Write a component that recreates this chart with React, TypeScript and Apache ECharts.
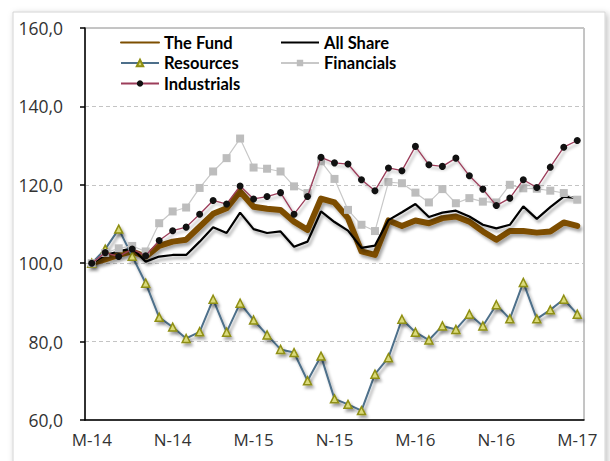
import React, { useEffect, useRef } from "react";
import * as echarts from "echarts";

const categories = [
  "M-14","J-14","J-14","A-14","S-14","O-14","N-14","D-14","J-15","F-15","M-15","A-15",
  "M-15","J-15","J-15","A-15","S-15","O-15","N-15","D-15","J-16","F-16","M-16","A-16",
  "M-16","J-16","J-16","A-16","S-16","O-16","N-16","D-16","J-17","F-17","M-17","A-17","M-17",
];

const theFund = [
  100.0, 101.0, 102.1, 103.0, 101.7, 104.4, 105.5, 106.0, 109.3, 112.6, 114.0, 118.3,
  114.4, 113.9, 113.6, 110.6, 108.5, 116.5, 115.5, 111.5, 103.0, 102.1, 110.9, 109.5,
  110.9, 110.2, 111.5, 111.9, 110.6, 108.1, 106.0, 108.2, 108.2, 107.8, 108.1, 110.4, 109.5,
];

const allShare = [
  100.0, 102.1, 103.0, 103.8, 100.4, 101.7, 102.1, 102.1, 105.5, 109.2, 107.7, 112.9,
  108.7, 107.7, 108.1, 104.2, 105.5, 113.2, 110.5, 108.3, 103.9, 104.5, 111.0, 113.0,
  115.1, 111.8, 112.9, 113.4, 111.9, 109.8, 108.9, 109.8, 114.5, 111.3, 114.3, 117.0, 116.6,
];

const resources = [
  100.0, 103.6, 108.7, 101.8, 94.9, 86.2, 83.7, 80.8, 82.5, 90.8, 82.4, 89.8,
  85.5, 81.7, 78.0, 77.2, 70.0, 76.3, 65.4, 64.0, 62.4, 71.7, 75.9, 85.7,
  82.4, 80.4, 84.0, 83.1, 87.0, 84.0, 89.4, 85.8, 95.1, 85.8, 88.1, 90.8, 87.0,
];

const financials = [
  100.0, 102.6, 103.8, 104.4, 103.0, 110.2, 113.2, 114.2, 119.2, 123.4, 126.8, 131.8,
  124.4, 124.1, 123.4, 119.6, 117.9, 126.0, 121.5, 113.6, 109.8, 108.2, 120.7, 120.4,
  118.0, 115.5, 118.9, 115.3, 116.6, 115.7, 115.5, 120.0, 119.1, 119.0, 118.5, 117.9, 116.2,
];

const industrials = [
  100.0, 102.7, 101.7, 103.6, 101.9, 105.8, 108.3, 109.2, 112.5, 116.0, 115.1, 119.7,
  116.4, 117.0, 118.0, 112.5, 117.0, 127.0, 125.6, 125.3, 121.3, 118.5, 124.3, 123.6,
  129.8, 125.1, 124.7, 126.8, 122.3, 118.9, 114.7, 116.6, 121.3, 119.3, 124.5, 129.6, 131.3,
];

const yTicks = [60, 80, 100, 120, 140, 160];

export default function App() {
  const ref = useRef<HTMLDivElement>(null);

  useEffect(() => {
    document.body.style.margin = "0";
    const chart = echarts.init(ref.current!, null, { renderer: "svg" });
    const shadow = {
      shadowColor: "rgba(0,0,0,0.35)",
      shadowBlur: 3,
      shadowOffsetX: 2,
      shadowOffsetY: 3,
    };
    const legendText = {
      fontFamily: "Lato",
      fontWeight: "bold" as const,
      fontSize: 16.5,
      color: "#000",
    };
    const hiddenSymbol = { opacity: 0, color: "transparent", borderWidth: 0 };
    const legendCommon = {
      orient: "vertical" as const,
      top: 29,
      itemWidth: 38,
      itemHeight: 8,
      itemGap: 3.5,
      textStyle: legendText,
      selectedMode: false,
    };
    chart.setOption({
      animation: false,
      backgroundColor: "#fff",
      graphic: [
        {
          type: "rect",
          shape: { x: 13, y: 12, width: 592, height: 470 },
          style: {
            fill: "#fff",
            stroke: "#d4d4d4",
            lineWidth: 1,
            shadowColor: "rgba(0,0,0,0.25)",
            shadowBlur: 6,
            shadowOffsetX: 2,
            shadowOffsetY: 2,
          },
          z: -10,
          silent: true,
        },
      ],
      grid: {
        left: 85,
        right: 26,
        top: 28,
        bottom: 41,
        show: true,
        borderColor: "#8a8a8a",
        borderWidth: 1,
        backgroundColor: "transparent",
      },
      legend: [
        {
          ...legendCommon,
          left: 115,
          data: [
            { name: "The Fund", itemStyle: hiddenSymbol },
            { name: "Resources" },
            { name: "Industrials" },
          ],
        },
        {
          ...legendCommon,
          left: 275,
          data: [{ name: "All Share", itemStyle: hiddenSymbol }, { name: "Financials" }],
        },
      ],
      xAxis: {
        type: "category",
        data: categories,
        boundaryGap: true,
        axisLine: { lineStyle: { color: "#000", width: 1.5 } },
        axisTick: { interval: 5, length: 5, lineStyle: { color: "#000", width: 1.5 } },
        axisLabel: {
          interval: 5,
          margin: 11,
          fontFamily: "Open Sans",
          fontSize: 17,
          color: "#333",
        },
        splitLine: { show: false },
      },
      yAxis: {
        type: "value",
        min: yTicks[0],
        max: yTicks[yTicks.length - 1],
        interval: 20,
        axisLine: { show: true, lineStyle: { color: "#000", width: 1.5 } },
        axisTick: { show: true, length: 5, lineStyle: { color: "#000", width: 1.5 } },
        axisLabel: {
          margin: 22,
          fontFamily: "Open Sans",
          fontSize: 17.5,
          color: "#333",
          formatter: (v: number) => v.toFixed(1).replace(".", ","),
        },
        splitLine: { lineStyle: { color: "#c4c4c4", type: [4, 3], width: 1 } },
      },
      series: [
        {
          name: "The Fund",
          type: "line",
          data: theFund,
          symbol: "none",
          color: "#7d4e00",
          lineStyle: { width: 6, color: "#7d4e00", cap: "round", join: "round", ...shadow },
          z: 2,
        },
        {
          name: "All Share",
          type: "line",
          data: allShare,
          symbol: "none",
          color: "#000",
          lineStyle: { width: 2.2, color: "#000", ...shadow },
          z: 3,
        },
        {
          name: "Resources",
          type: "line",
          data: resources,
          symbol: "triangle",
          symbolSize: 8,
          color: "#4d6f8a",
          lineStyle: { width: 2, color: "#4d6f8a", ...shadow },
          itemStyle: { color: "#dada7c", borderColor: "#8f8f12", borderWidth: 1.5, ...shadow },
          z: 4,
        },
        {
          name: "Financials",
          type: "line",
          data: financials,
          symbol: "rect",
          symbolSize: 8,
          color: "#c4c4c4",
          lineStyle: { width: 1.2, color: "#c8c8c8" },
          itemStyle: { color: "#bdbdbd" },
          z: 5,
        },
        {
          name: "Industrials",
          type: "line",
          data: industrials,
          symbol: "circle",
          symbolSize: 7,
          color: "#111",
          lineStyle: { width: 1.3, color: "#9c3d5a", ...shadow },
          itemStyle: { color: "#111" },
          z: 6,
        },
      ],
    });
    return () => chart.dispose();
  }, []);

  return (
    <div
      ref={ref}
      style={{ position: "absolute", left: 0, top: 0, width: 610, height: 461 }}
    />
  );
}
